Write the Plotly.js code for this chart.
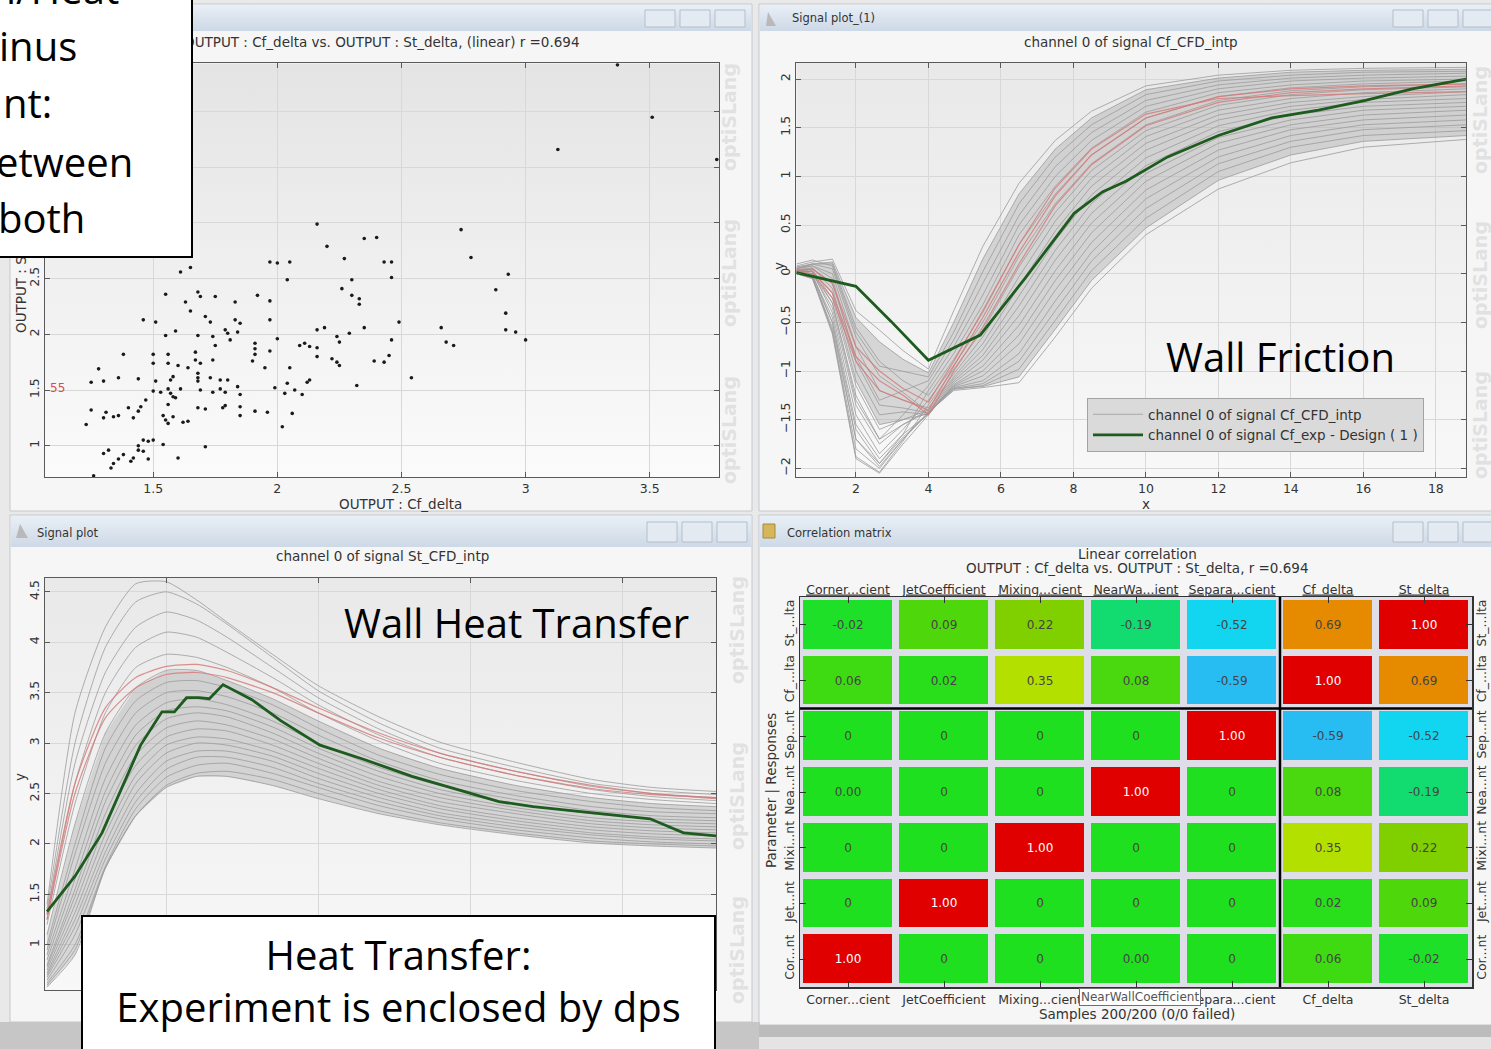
<!DOCTYPE html>
<html><head><meta charset="utf-8">
<script src="https://cdn.plot.ly/plotly-3.0.1.min.js"></script>
<style>html,body{margin:0;padding:0;background:#e9e9e9;overflow:hidden}#chart{width:1491px;height:1049px}</style>
</head><body><div id="chart"></div>
<script>
// ---------- DATA ----------
// Scatter: OUTPUT : Cf_delta (x) vs OUTPUT : St_delta (y)
const scatterCf = [3.37,3.51,3.13,3.77,2.16,2.74,2.35,2.40,2.20,2.27,2.78,1.97,2.00,2.05,2.43,2.46,1.65,1.61,2.93,2.04,2.30,2.46,2.26,2.88,1.68,1.55,1.69,1.75,1.92,1.97,2.30,2.33,1.83,1.63,2.33,1.65,2.92,1.83,1.85,1.46,1.51,1.71,1.73,2.49,1.97,2.66,1.79,1.80,1.84,1.59,1.55,2.16,2.19,2.35,2.92,2.96,1.68,1.74,1.81,2.00,2.24,2.29,2.46,3.00,2.68,2.71,2.11,2.13,2.09,2.16,2.25,1.75,1.91,1.91,1.97,1.50,1.56,1.38,1.67,1.91,2.45,2.16,2.22,2.24,2.25,1.50,1.56,2.39,2.43,1.28,1.60,1.67,1.64,1.69,1.74,1.90,1.95,2.05,1.68,1.68,1.68,1.73,1.77,1.80,1.36,1.44,1.25,1.30,1.58,1.57,1.51,2.12,2.13,2.04,2.54,2.32,1.99,2.07,1.56,1.50,1.53,1.57,1.58,1.59,1.61,1.69,1.74,1.79,1.77,1.84,1.85,2.03,2.10,1.47,1.56,1.45,1.40,1.68,1.71,1.78,1.79,1.85,1.85,1.91,1.96,1.25,1.31,1.30,1.34,1.36,1.42,1.44,1.54,1.55,1.58,1.56,1.62,1.64,2.06,2.02,1.23,1.46,1.48,1.50,1.54,1.44,1.44,1.46,1.32,1.30,1.38,1.36,1.34,1.33,1.41,1.42,1.48,1.60,1.71,1.26];
const scatterSt = [4.42,3.95,3.66,3.57,2.99,2.94,2.86,2.87,2.79,2.68,2.69,2.65,2.64,2.65,2.65,2.65,2.60,2.56,2.54,2.49,2.49,2.51,2.41,2.40,2.38,2.36,2.34,2.34,2.35,2.30,2.35,2.32,2.29,2.29,2.27,2.21,2.19,2.13,2.10,2.13,2.11,2.16,2.11,2.11,2.13,2.06,2.04,2.01,2.02,2.03,1.99,2.04,2.06,2.06,2.04,2.02,1.99,1.98,1.95,1.96,1.98,2.01,1.95,1.95,1.93,1.90,1.92,1.89,1.90,1.88,1.93,1.90,1.92,1.87,1.85,1.82,1.82,1.82,1.84,1.82,1.81,1.80,1.78,1.75,1.72,1.74,1.74,1.76,1.75,1.69,1.72,1.77,1.70,1.74,1.77,1.76,1.70,1.70,1.65,1.61,1.58,1.61,1.59,1.59,1.61,1.60,1.57,1.58,1.62,1.59,1.58,1.57,1.59,1.56,1.61,1.54,1.52,1.50,1.51,1.49,1.48,1.47,1.44,1.43,1.51,1.50,1.48,1.48,1.51,1.53,1.46,1.47,1.46,1.41,1.37,1.35,1.34,1.34,1.33,1.34,1.36,1.35,1.27,1.31,1.30,1.32,1.30,1.25,1.26,1.27,1.25,1.31,1.27,1.23,1.26,1.20,1.21,1.22,1.29,1.17,1.19,1.05,1.04,1.05,1.01,1.00,0.96,0.95,0.96,0.93,0.92,0.88,0.84,0.80,0.86,0.89,0.88,0.89,0.99,0.73];

// Signal Cf_CFD_intp (wall friction), one row per design
const cfX = [0.36,0.8,1.35,2.0,2.65,3.3,4.0,4.7,5.5,6.5,7.5,8.5,10,12,14,16,18.84];
const cfCurves = [
 [0.08,0.12,0.15,-0.38,-0.58,-0.79,-0.98,-0.38,0.28,0.93,1.37,1.67,1.93,2.04,2.09,2.11,2.12],
 [0.05,0.10,0.12,-0.45,-0.70,-0.88,-1.02,-0.50,0.15,0.82,1.28,1.60,1.89,2.01,2.07,2.09,2.10],
 [0.10,0.14,0.08,-0.60,-0.95,-1.00,-1.06,-0.60,0.02,0.72,1.20,1.53,1.84,1.98,2.04,2.07,2.08],
 [0.02,0.05,-0.10,-0.85,-1.30,-1.20,-1.10,-0.68,-0.10,0.60,1.10,1.45,1.78,1.94,2.01,2.04,2.06],
 [0.04,0.00,-0.30,-1.25,-1.70,-1.45,-1.15,-0.75,-0.22,0.50,1.00,1.37,1.72,1.90,1.98,2.01,2.03],
 [0.00,-0.05,-0.55,-1.70,-1.95,-1.65,-1.20,-0.82,-0.32,0.40,0.90,1.29,1.66,1.86,1.94,1.98,2.00],
 [0.06,0.10,0.10,-0.55,-0.90,-1.10,-1.25,-0.88,-0.40,0.30,0.82,1.22,1.60,1.82,1.91,1.95,1.98],
 [0.03,0.02,-0.40,-1.45,-1.85,-1.60,-1.30,-0.94,-0.50,0.18,0.72,1.13,1.53,1.78,1.88,1.92,1.95],
 [0.00,-0.04,-0.60,-1.88,-2.04,-1.72,-1.35,-0.98,-0.58,0.07,0.63,1.06,1.47,1.73,1.84,1.89,1.92],
 [0.05,0.08,0.00,-0.75,-1.20,-1.30,-1.38,-1.03,-0.65,-0.03,0.54,0.98,1.41,1.68,1.80,1.86,1.90],
 [0.02,0.00,-0.35,-1.35,-1.75,-1.55,-1.40,-1.06,-0.72,-0.13,0.44,0.90,1.34,1.63,1.76,1.82,1.87],
 [0.07,0.10,0.05,-0.65,-1.05,-1.22,-1.42,-1.08,-0.78,-0.23,0.34,0.81,1.27,1.58,1.72,1.79,1.84],
 [0.01,-0.03,-0.50,-1.60,-1.95,-1.68,-1.44,-1.10,-0.84,-0.33,0.24,0.72,1.19,1.52,1.68,1.76,1.80],
 [0.04,0.06,-0.15,-1.00,-1.45,-1.42,-1.45,-1.12,-0.89,-0.43,0.14,0.62,1.11,1.46,1.63,1.72,1.76],
 [0.00,-0.05,-0.62,-1.90,-2.05,-1.75,-1.45,-1.14,-0.95,-0.53,0.03,0.52,1.03,1.40,1.58,1.68,1.72],
 [0.03,0.04,-0.25,-1.15,-1.60,-1.50,-1.44,-1.15,-1.00,-0.63,-0.07,0.42,0.95,1.34,1.53,1.63,1.68],
 [0.06,0.08,-0.05,-0.90,-1.35,-1.38,-1.43,-1.16,-1.05,-0.72,-0.17,0.32,0.86,1.27,1.48,1.58,1.63],
 [0.01,-0.02,-0.45,-1.55,-1.90,-1.65,-1.44,-1.17,-1.10,-0.82,-0.28,0.22,0.77,1.20,1.42,1.53,1.58],
 [0.02,0.03,-0.30,-1.30,-1.70,-1.55,-1.42,-1.18,-1.13,-0.90,-0.38,0.13,0.67,1.13,1.36,1.48,1.53],
 [0.00,-0.04,-0.58,-1.80,-2.00,-1.70,-1.43,-1.19,-1.15,-0.98,-0.48,0.03,0.57,1.05,1.30,1.42,1.47],
 [0.03,0.02,-0.20,-1.10,-1.55,-1.50,-1.40,-1.18,-1.16,-1.06,-0.57,-0.07,0.47,0.96,1.22,1.36,1.42],
 [0.01,-0.01,-0.50,-1.70,-1.98,-1.70,-1.42,-1.20,-1.17,-1.12,-0.65,-0.15,0.40,0.87,1.14,1.30,1.38]
];
const cfRedCurves = [
 [0.03,0.02,-0.20,-0.85,-1.10,-1.25,-1.45,-1.00,-0.55,0.10,0.70,1.12,1.52,1.76,1.86,1.90,1.93],
 [0.02,0.00,-0.25,-0.90,-1.20,-1.30,-1.40,-0.95,-0.45,0.22,0.80,1.22,1.60,1.82,1.90,1.93,1.95],
 [0.04,0.05,-0.10,-0.75,-1.00,-1.18,-1.32,-0.90,-0.38,0.30,0.88,1.28,1.64,1.80,1.83,1.85,1.87]
];
const cfExpX = [0.36,2.0,2.97,4.0,5.43,6.66,8.02,8.8,9.45,10.6,12.0,13.47,14.76,16.06,17.35,18.84];
const cfExpY = [0.01,-0.13,-0.49,-0.89,-0.63,-0.05,0.62,0.84,0.95,1.20,1.42,1.60,1.68,1.78,1.90,2.00];

// Signal St_CFD_intp (wall heat transfer)
const stX = [1.08,2,3,4,5,6,7,8.5,10,12,14,16.5,19,21,23.09];
const stCurves = [
 [1.40,3.30,4.15,4.58,4.60,4.42,4.20,3.88,3.57,3.26,3.01,2.81,2.64,2.56,2.52],
 [1.35,3.00,3.95,4.40,4.50,4.38,4.18,3.85,3.52,3.20,2.95,2.76,2.60,2.53,2.49],
 [1.30,2.80,3.70,4.15,4.30,4.22,4.05,3.75,3.45,3.14,2.90,2.72,2.57,2.50,2.46],
 [1.25,2.60,3.50,3.95,4.10,4.05,3.90,3.65,3.38,3.08,2.86,2.68,2.54,2.47,2.43],
 [1.20,2.40,3.30,3.75,3.88,3.85,3.75,3.55,3.30,3.02,2.80,2.63,2.50,2.44,2.40],
 [1.10,2.20,3.10,3.55,3.72,3.72,3.62,3.44,3.22,2.95,2.75,2.58,2.46,2.40,2.37],
 [1.00,2.00,2.95,3.42,3.60,3.62,3.55,3.38,3.15,2.88,2.69,2.53,2.42,2.36,2.33],
 [0.95,1.90,2.80,3.30,3.50,3.52,3.46,3.30,3.08,2.82,2.63,2.48,2.37,2.32,2.30],
 [0.90,1.75,2.65,3.18,3.40,3.44,3.38,3.22,3.00,2.76,2.58,2.44,2.33,2.28,2.26],
 [0.85,1.65,2.52,3.08,3.32,3.36,3.32,3.16,2.95,2.72,2.54,2.40,2.30,2.25,2.23],
 [0.80,1.55,2.42,2.98,3.24,3.30,3.26,3.10,2.90,2.67,2.50,2.36,2.26,2.22,2.20],
 [0.78,1.48,2.30,2.88,3.15,3.22,3.18,3.04,2.85,2.62,2.46,2.33,2.23,2.19,2.17],
 [0.75,1.40,2.20,2.78,3.06,3.14,3.12,2.98,2.80,2.58,2.42,2.30,2.20,2.16,2.14],
 [0.72,1.32,2.10,2.68,2.98,3.06,3.04,2.92,2.75,2.54,2.38,2.26,2.17,2.13,2.11],
 [0.70,1.25,2.00,2.60,2.90,3.00,2.98,2.87,2.70,2.50,2.35,2.23,2.14,2.10,2.08],
 [0.68,1.18,1.92,2.50,2.82,2.92,2.92,2.82,2.65,2.46,2.31,2.20,2.11,2.07,2.05],
 [0.65,1.10,1.85,2.42,2.74,2.86,2.86,2.76,2.60,2.42,2.28,2.17,2.09,2.05,2.03],
 [0.62,1.00,1.78,2.35,2.66,2.78,2.80,2.70,2.56,2.38,2.25,2.14,2.06,2.02,2.00],
 [0.60,0.95,1.76,2.28,2.58,2.70,2.72,2.64,2.50,2.33,2.21,2.11,2.03,2.00,1.98],
 [0.58,0.90,1.76,2.28,2.56,2.67,2.67,2.58,2.45,2.30,2.19,2.09,2.01,1.98,1.96]
];
const stRedCurves = [
 [1.30,2.60,3.35,3.65,3.76,3.78,3.72,3.55,3.35,3.10,2.90,2.72,2.58,2.50,2.45],
 [1.25,2.50,3.25,3.55,3.68,3.70,3.65,3.50,3.30,3.05,2.86,2.68,2.55,2.49,2.46]
];
const stExpX = [1.08,2.0,2.89,4.16,4.86,5.27,5.67,6.07,6.42,6.87,7.82,8.78,10.06,11.49,13.09,15.95,17.07,20.26,20.92,22.02,23.09];
const stExpY = [1.33,1.68,2.11,2.98,3.31,3.31,3.45,3.45,3.44,3.58,3.43,3.22,2.98,2.84,2.67,2.42,2.37,2.27,2.25,2.11,2.08];

// Correlation matrix (rows bottom->top, columns left->right)
const corrBottomLabels = ['Corner...cient','JetCoefficient','Mixing...cient','','Separa...cient','Cf_delta','St_delta'];
const corrTopLabels = ['Corner...cient','JetCoefficient','Mixing...cient','NearWa...ient','Separa...cient','Cf_delta','St_delta'];
const corrSideLabels = ['Cor...nt','Jet...nt','Mixi...nt','Nea...nt','Sep...nt','Cf_...lta','St_...lta'];
const corrZ = [
 [1.00,0,0,0.00,0,0.06,-0.02],
 [0,1.00,0,0,0,0.02,0.09],
 [0,0,1.00,0,0,0.35,0.22],
 [0.00,0,0,1.00,0,0.08,-0.19],
 [0,0,0,0,1.00,-0.59,-0.52],
 [0.06,0.02,0.35,0.08,-0.59,1.00,0.69],
 [-0.02,0.09,0.22,-0.19,-0.52,0.69,1.00]
];
const corrText = [
 ['1.00','0','0','0.00','0','0.06','-0.02'],
 ['0','1.00','0','0','0','0.02','0.09'],
 ['0','0','1.00','0','0','0.35','0.22'],
 ['0.00','0','0','1.00','0','0.08','-0.19'],
 ['0','0','0','0','1.00','-0.59','-0.52'],
 ['0.06','0.02','0.35','0.08','-0.59','1.00','0.69'],
 ['-0.02','0.09','0.22','-0.19','-0.52','0.69','1.00']
];
const corrIdx = [0,1,2,3,4,5,6];

// ---------- HELPERS ----------
const W = 1491, H = 1049;
const PX = x => x / W, PY = y => 1 - y / H;
const SMALL = 'DejaVu Sans, sans-serif', BIG = 'Open Sans, sans-serif';
function grad(c1, c2) {
  const s = "<svg xmlns='http://www.w3.org/2000/svg' width='10' height='10' preserveAspectRatio='none'><defs><linearGradient id='g' x1='0' y1='0' x2='0' y2='1'><stop offset='0' stop-color='" + c1 + "'/><stop offset='1' stop-color='" + c2 + "'/></linearGradient></defs><rect width='10' height='10' fill='url(#g)'/></svg>";
  return 'data:image/svg+xml;charset=utf-8,' + encodeURIComponent(s);
}
function T(text, x, y, o) {
  return Object.assign({text: text, x: PX(x), y: PY(y), xref: 'paper', yref: 'paper', showarrow: false,
    xanchor: 'center', yanchor: 'middle', font: {family: SMALL, size: 13.5, color: '#333'}}, o || {});
}
function R(x0, y0, x1, y1, fill, line, layer) {
  return {type: 'rect', xref: 'paper', yref: 'paper', x0: PX(x0), x1: PX(x1), y0: PY(y1), y1: PY(y0),
    fillcolor: fill, line: {color: line || 'rgba(0,0,0,0)', width: line ? 1 : 0}, layer: layer || 'below'};
}
const TICKF = {family: SMALL, size: 12.5, color: '#333'};
function ax(o) {
  return Object.assign({showline: true, linecolor: '#5a5a5a', linewidth: 1, mirror: 'ticks', ticks: 'inside',
    ticklen: 5, tickcolor: '#5a5a5a', showgrid: true, gridcolor: '#d8d8d8', gridwidth: 1, zeroline: false,
    tickfont: TICKF, fixedrange: true}, o);
}

// ---------- TRACES ----------
const traces = [];
traces.push({type: 'scatter', mode: 'markers', x: scatterCf, y: scatterSt, xaxis: 'x', yaxis: 'y',
  marker: {size: 3.6, color: '#1a1a1a'}, showlegend: false, hoverinfo: 'skip'});

// friction
traces.push({type: 'scatter', mode: 'lines', x: cfX, y: cfCurves[20], xaxis: 'x2', yaxis: 'y2', line: {width: 0}, showlegend: false, hoverinfo: 'skip'});
traces.push({type: 'scatter', mode: 'lines', x: cfX, y: cfCurves[1], xaxis: 'x2', yaxis: 'y2', line: {width: 0}, fill: 'tonexty', fillcolor: 'rgba(172,172,172,0.42)', showlegend: false, hoverinfo: 'skip'});
cfCurves.forEach((c, i) => traces.push({type: 'scatter', mode: 'lines', x: cfX, y: c, xaxis: 'x2', yaxis: 'y2',
  name: 'channel 0 of signal Cf_CFD_intp', showlegend: i === 0, line: {color: 'rgba(155,155,155,0.8)', width: 1}, hoverinfo: 'skip'}));
cfRedCurves.forEach(c => traces.push({type: 'scatter', mode: 'lines', x: cfX, y: c, xaxis: 'x2', yaxis: 'y2',
  showlegend: false, line: {color: 'rgba(214,120,120,0.8)', width: 1.2}, hoverinfo: 'skip'}));
traces.push({type: 'scatter', mode: 'lines', x: cfExpX, y: cfExpY, xaxis: 'x2', yaxis: 'y2',
  name: 'channel 0 of signal Cf_exp - Design ( 1 )', line: {color: '#1e5b1e', width: 2.8}, hoverinfo: 'skip'});

// heat transfer
traces.push({type: 'scatter', mode: 'lines', x: stX, y: stCurves[19], xaxis: 'x3', yaxis: 'y3', line: {width: 0}, showlegend: false, hoverinfo: 'skip'});
traces.push({type: 'scatter', mode: 'lines', x: stX, y: stCurves[5], xaxis: 'x3', yaxis: 'y3', line: {width: 0}, fill: 'tonexty', fillcolor: 'rgba(172,172,172,0.42)', showlegend: false, hoverinfo: 'skip'});
stCurves.forEach(c => traces.push({type: 'scatter', mode: 'lines', x: stX, y: c, xaxis: 'x3', yaxis: 'y3',
  showlegend: false, line: {color: 'rgba(155,155,155,0.8)', width: 1, shape: 'spline', smoothing: 0.6}, hoverinfo: 'skip'}));
stRedCurves.forEach(c => traces.push({type: 'scatter', mode: 'lines', x: stX, y: c, xaxis: 'x3', yaxis: 'y3',
  showlegend: false, line: {color: 'rgba(214,120,120,0.8)', width: 1.2, shape: 'spline', smoothing: 0.6}, hoverinfo: 'skip'}));
traces.push({type: 'scatter', mode: 'lines', x: stExpX, y: stExpY, xaxis: 'x3', yaxis: 'y3',
  showlegend: false, line: {color: '#1e5b1e', width: 2.8}, hoverinfo: 'skip'});

// correlation heatmap
traces.push({type: 'heatmap', x: corrIdx, y: corrIdx, z: corrZ, text: corrText, texttemplate: '%{text}',
  textfont: {family: SMALL, size: 12}, zmin: -1, zmax: 1, showscale: false, xgap: 7, ygap: 7,
  colorscale: [[0, '#0040ff'], [0.205, '#28bdf2'], [0.24, '#12d6f0'], [0.405, '#12dc70'], [0.5, '#1fe01f'],
    [0.545, '#4ed80c'], [0.61, '#80d000'], [0.675, '#b4e000'], [0.845, '#e68a00'], [1, '#e00000']],
  xaxis: 'x4', yaxis: 'y4', hoverinfo: 'skip'});
traces.push({type: 'scatter', x: [], y: [], xaxis: 'x5', yaxis: 'y4', showlegend: false, hoverinfo: 'skip'});
traces.push({type: 'scatter', x: [], y: [], xaxis: 'x4', yaxis: 'y5', showlegend: false, hoverinfo: 'skip'});

// ---------- LAYOUT ----------
const shapes = [
  R(10, 4, 752, 511, '#f6f6f6', '#c3c8ce'),
  R(759, 4, 1498, 511, '#f6f6f6', '#c3c8ce'),
  R(10, 515, 752, 1022, '#f6f6f6', '#c3c8ce'),
  R(759, 515, 1498, 1025, '#f6f6f6', '#c3c8ce'),
  R(0, 1022, 760, 1049, '#c6c6c6'),
  R(759, 1025, 1491, 1037, '#bcbcbc'),
  R(759, 1037, 1491, 1049, '#e4e4e4'),
  {type: 'rect', xref: 'x4 domain', yref: 'y4 domain', x0: 0, x1: 1, y0: 0, y1: 1, fillcolor: '#dedee9', line: {width: 0}, layer: 'below'},
  {type: 'line', xref: 'x4', yref: 'y4', x0: 4.5, x1: 4.5, y0: -0.5, y1: 6.5, line: {color: '#000', width: 2.5}, layer: 'above'},
  {type: 'line', xref: 'x4', yref: 'y4', x0: -0.5, x1: 6.5, y0: 4.5, y1: 4.5, line: {color: '#000', width: 2.5}, layer: 'above'}
];
[[645, 10, 27], [1393, 10, 27], [647, 522, 542], [1393, 522, 542]].forEach(b => {
  for (let k = 0; k < 3; k++) shapes.push(R(b[0] + 35 * k, b[1], b[0] + 35 * k + 30, b[2], '#e4eaf1', '#b4bec9', 'above'));
});
shapes.push(R(763, 524, 775, 538, '#d6b65a', '#a88a3a', 'above'));
shapes.push({type: 'path', xref: 'paper', yref: 'paper', path: 'M ' + PX(768) + ' ' + PY(12) + ' L ' + PX(776) + ' ' + PY(26) + ' L ' + PX(766) + ' ' + PY(26) + ' Z', fillcolor: '#b9b9b9', line: {width: 0}, layer: 'above'});
shapes.push({type: 'path', xref: 'paper', yref: 'paper', path: 'M ' + PX(20) + ' ' + PY(524) + ' L ' + PX(28) + ' ' + PY(538) + ' L ' + PX(16) + ' ' + PY(538) + ' Z', fillcolor: '#b9b9b9', line: {width: 0}, layer: 'above'});

const barGrad = grad('#e9eff6', '#cdd9e6');
const images = [
  {source: barGrad, xref: 'paper', yref: 'paper', x: PX(11), y: PY(5), sizex: PX(740), sizey: 26 / H, sizing: 'stretch', xanchor: 'left', yanchor: 'top', layer: 'above'},
  {source: barGrad, xref: 'paper', yref: 'paper', x: PX(760), y: PY(5), sizex: PX(735), sizey: 26 / H, sizing: 'stretch', xanchor: 'left', yanchor: 'top', layer: 'above'},
  {source: barGrad, xref: 'paper', yref: 'paper', x: PX(11), y: PY(516), sizex: PX(740), sizey: 31 / H, sizing: 'stretch', xanchor: 'left', yanchor: 'top', layer: 'above'},
  {source: barGrad, xref: 'paper', yref: 'paper', x: PX(760), y: PY(516), sizex: PX(735), sizey: 31 / H, sizing: 'stretch', xanchor: 'left', yanchor: 'top', layer: 'above'},
  {source: grad('#e4e4e4', '#fbfbfb'), xref: 'x', yref: 'y', x: 1.0625, y: 4.434, sizex: 3.779 - 1.0625, sizey: 4.434 - 0.716, sizing: 'stretch', xanchor: 'left', yanchor: 'top', layer: 'below'},
  {source: grad('#e9e9e9', '#f8f8f8'), xref: 'x2', yref: 'y2', x: 0.355, y: 2.168, sizex: 18.84 - 0.355, sizey: 2.168 + 2.092, sizing: 'stretch', xanchor: 'left', yanchor: 'top', layer: 'below'},
  {source: grad('#e9e9e9', '#f8f8f8'), xref: 'x3', yref: 'y3', x: 1, y: 4.64, sizex: 22.09, sizey: 4.64 - 0.55, sizing: 'stretch', xanchor: 'left', yanchor: 'top', layer: 'below'}
];

const WM = {family: SMALL, size: 19, color: 'rgba(180,180,180,0.33)'};
const WIN = {family: SMALL, size: 11.5, color: '#333'};
const BIGF = {family: BIG, size: 40, color: '#000'};
const annotations = [
  T('Signal plot_(1)', 790, 18, {xanchor: 'left', font: WIN}),
  T('Signal plot', 35, 533, {xanchor: 'left', font: WIN}),
  T('Correlation matrix', 785, 533, {xanchor: 'left', font: WIN}),
  T('<b>optiSLang</b>', 729, 117, {textangle: -90, font: WM}),
  T('<b>optiSLang</b>', 729, 273, {textangle: -90, font: WM}),
  T('<b>optiSLang</b>', 729, 430, {textangle: -90, font: WM}),
  T('<b>optiSLang</b>', 1480, 120, {textangle: -90, font: WM}),
  T('<b>optiSLang</b>', 1480, 275, {textangle: -90, font: WM}),
  T('<b>optiSLang</b>', 1480, 425, {textangle: -90, font: WM}),
  T('<b>optiSLang</b>', 737, 630, {textangle: -90, font: WM}),
  T('<b>optiSLang</b>', 737, 796, {textangle: -90, font: WM}),
  T('<b>optiSLang</b>', 737, 950, {textangle: -90, font: WM}),
  T('OUTPUT : Cf_delta vs. OUTPUT : St_delta, (linear) r =0.694', 382, 42),
  T('OUTPUT : Cf_delta', 400, 504),
  T('OUTPUT : St_delta', 21, 272, {textangle: -90}),
  T('55', 57, 388, {font: {family: SMALL, size: 12, color: '#e04848'}}),
  T('channel 0 of signal Cf_CFD_intp', 1131, 42),
  T('x', 1146, 504),
  T('y', 779, 266, {textangle: -90}),
  T('channel 0 of signal St_CFD_intp', 383, 556),
  T('y', 20, 777, {textangle: -90}),
  T('Linear correlation', 1137, 554),
  T('OUTPUT : Cf_delta vs. OUTPUT : St_delta, r =0.694', 1137, 568),
  T('Samples 200/200 (0/0 failed)', 1137, 1014),
  T('Parameter | Responses', 771, 790, {textangle: -90}),
  T('NearWallCoefficient', 1140, 997, {bgcolor: '#ffffff', bordercolor: '#6f6f6f', borderwidth: 1, borderpad: 1, font: {family: SMALL, size: 12, color: '#555'}}),
  T('Wall Friction', 1280, 357, {font: BIGF}),
  T('Wall Heat Transfer', 516, 622, {font: BIGF}),
  T('Heat Transfer:<br>Experiment is enclosed by dps', 81, 915, {xanchor: 'left', yanchor: 'top', width: 611, height: 150, valign: 'top', align: 'center',
    bgcolor: '#ffffff', bordercolor: '#000', borderwidth: 2, borderpad: 10, font: BIGF}),
  T(' ', 193, 258, {xanchor: 'right', yanchor: 'bottom', width: 262, height: 322, bgcolor: '#ffffff', bordercolor: '#000', borderwidth: 2, borderpad: 0}),
  T('l/Heat', 121, -11, {xanchor: 'right', font: BIGF}),
  T('inus', 79, 46, {xanchor: 'right', font: BIGF}),
  T('nt:', 54, 102, {xanchor: 'right', font: BIGF}),
  T('etween', 135, 161, {xanchor: 'right', font: BIGF}),
  T('both', 87, 217, {xanchor: 'right', font: BIGF})
];

const layout = {
  width: W, height: H, margin: {l: 0, r: 0, t: 0, b: 0},
  paper_bgcolor: '#e9e9e9', plot_bgcolor: 'rgba(0,0,0,0)',
  showlegend: true,
  legend: {x: PX(1087), y: PY(398), xanchor: 'left', yanchor: 'top', bgcolor: '#dadada', bordercolor: '#a3a3a3', borderwidth: 1,
    font: {family: SMALL, size: 13.5, color: '#333'}, itemwidth: 50, tracegroupgap: 0, traceorder: 'normal'},
  xaxis: ax({domain: [PX(44.6), PX(719)], range: [1.0625, 3.779], dtick: 0.5, tick0: 0, anchor: 'y'}),
  yaxis: ax({domain: [PY(477.3), PY(63.3)], range: [0.716, 4.434], dtick: 0.5, tick0: 0, tickangle: -90, anchor: 'x'}),
  xaxis2: ax({domain: [PX(796.3), PX(1466.3)], range: [0.355, 18.84], dtick: 2, tick0: 0, anchor: 'y2'}),
  yaxis2: ax({domain: [PY(477.3), PY(62.7)], range: [-2.092, 2.168], dtick: 0.5, tick0: 0, tickangle: -90, anchor: 'x2'}),
  xaxis3: ax({domain: [PX(44.6), PX(716)], range: [1, 23.09], dtick: 5, tick0: 0, showticklabels: false, anchor: 'y3'}),
  yaxis3: ax({domain: [PY(990.2), PY(577.7)], range: [0.55, 4.64], dtick: 0.5, tick0: 0, tickangle: -90, anchor: 'x3'}),
  xaxis4: {domain: [PX(800), PX(1472)], range: [-0.5, 6.5], tickvals: corrIdx, ticktext: corrBottomLabels, showgrid: false, zeroline: false,
    showline: true, mirror: true, linecolor: '#333', linewidth: 1.5, ticks: 'inside', ticklen: 6, tickcolor: '#333', tickfont: TICKF, anchor: 'y4', fixedrange: true},
  yaxis4: {domain: [PY(987), PY(597)], range: [-0.5, 6.5], tickvals: corrIdx, ticktext: corrSideLabels, tickangle: -90, showgrid: false, zeroline: false,
    showline: true, mirror: true, linecolor: '#333', linewidth: 1.5, ticks: 'inside', ticklen: 6, tickcolor: '#333', tickfont: TICKF, anchor: 'x4', fixedrange: true},
  xaxis5: {overlaying: 'x4', side: 'top', anchor: 'y4', range: [-0.5, 6.5], tickvals: corrIdx,
    ticktext: corrTopLabels.map(s => '<span style="text-decoration:underline">' + s + '</span>'),
    showgrid: false, zeroline: false, showline: false, ticks: 'inside', ticklen: 6, tickcolor: '#333', tickfont: TICKF, fixedrange: true},
  yaxis5: {overlaying: 'y4', side: 'right', anchor: 'x4', range: [-0.5, 6.5], tickvals: corrIdx, ticktext: corrSideLabels, tickangle: -90,
    showgrid: false, zeroline: false, showline: false, ticks: 'inside', ticklen: 6, tickcolor: '#333', tickfont: TICKF, fixedrange: true},
  shapes: shapes, images: images, annotations: annotations
};

Plotly.newPlot('chart', traces, layout, {staticPlot: true, displayModeBar: false, responsive: false});
</script></body></html>
